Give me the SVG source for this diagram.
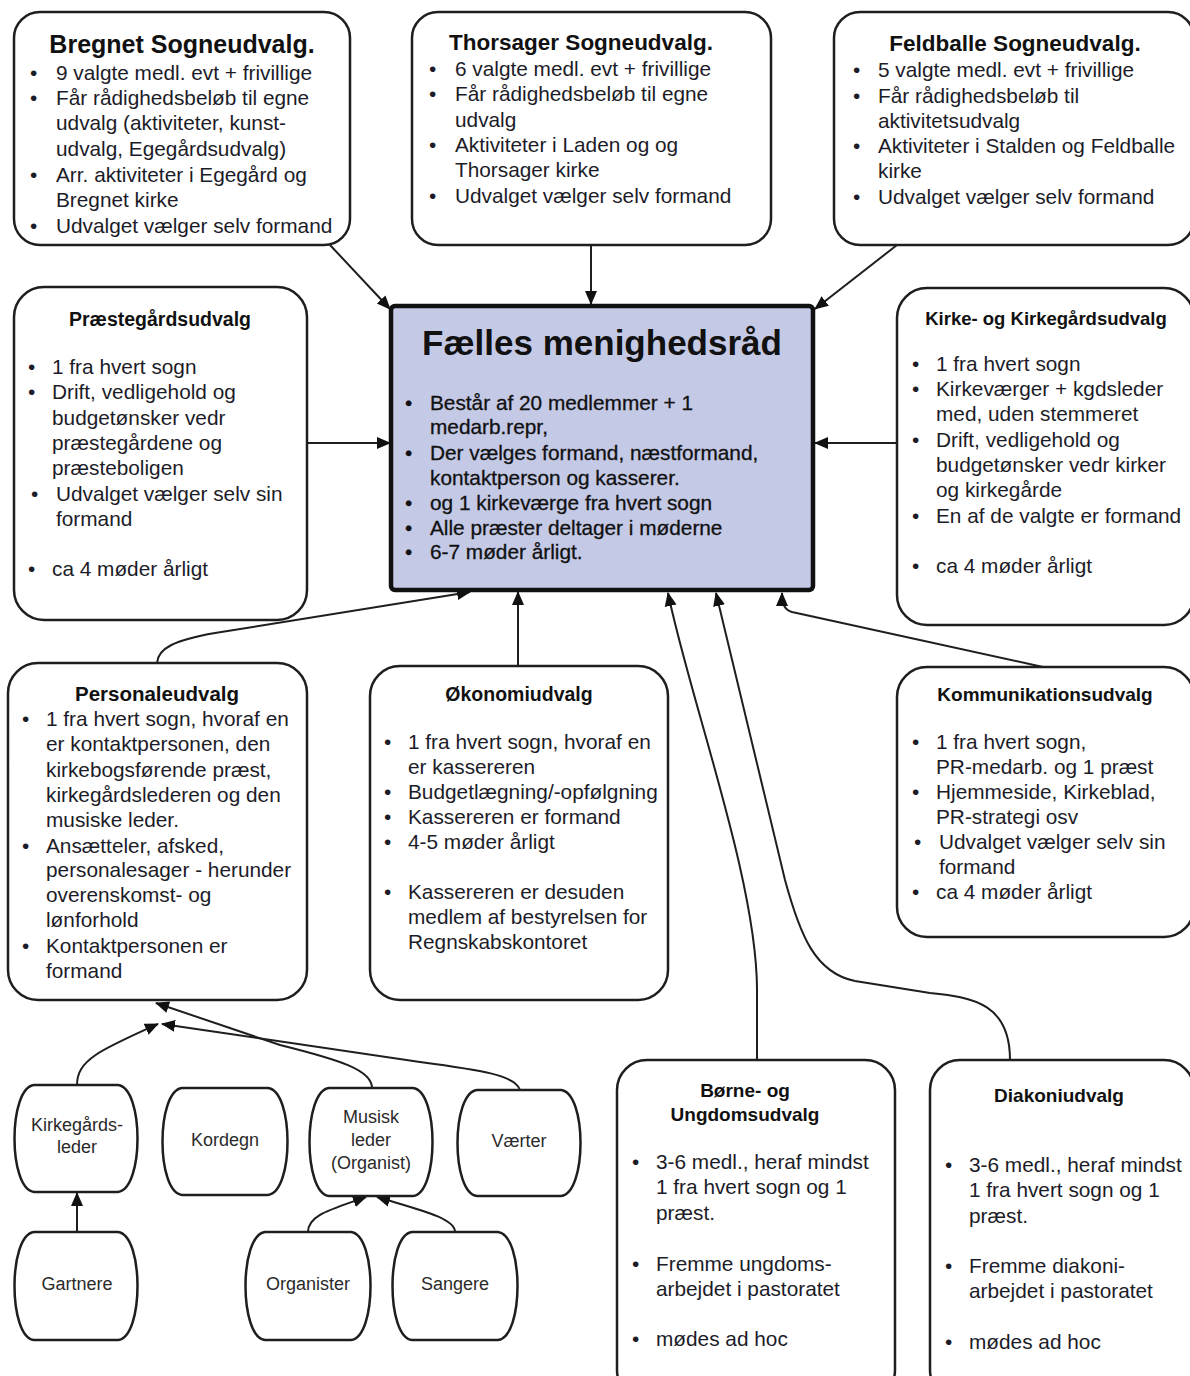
<svg xmlns="http://www.w3.org/2000/svg" width="1190" height="1376" viewBox="0 0 1190 1376">
<style>
.box{fill:#fff;stroke:#1e1e1e;stroke-width:2.5}
.main{fill:#c4c9e6;stroke:#111;stroke-width:4.5}
.t{font-family:'Liberation Sans',Arial,sans-serif;font-size:20.8px;fill:#1c1c28}
.h{font-family:'Liberation Sans',Arial,sans-serif;font-weight:bold;text-anchor:middle;fill:#111}
.s{font-family:'Liberation Sans',Arial,sans-serif;font-size:18px;fill:#2a2a2a;text-anchor:middle}
.c{fill:none;stroke:#1e1e1e;stroke-width:2}
</style>
<defs>
<marker id="ah" markerUnits="userSpaceOnUse" markerWidth="14" markerHeight="14" viewBox="0 0 14 14" refX="13" refY="7" orient="auto">
<path d="M0,1 L14,7 L0,13 Z" fill="#111"/>
</marker>
</defs>
<rect width="1190" height="1376" fill="#fff"/>

<g id="connectors">
<path class="c" d="M330,245 L390,309" marker-end="url(#ah)"/>
<path class="c" d="M591,245 L591,304" marker-end="url(#ah)"/>
<path class="c" d="M897,245 L815,309" marker-end="url(#ah)"/>
<path class="c" d="M307,443 L390,443" marker-end="url(#ah)"/>
<path class="c" d="M897,443 L815,443" marker-end="url(#ah)"/>
<path class="c" d="M157,663 C158,648 175,640 215,633 L470,592" marker-end="url(#ah)"/>
<path class="c" d="M518,666 L518,592" marker-end="url(#ah)"/>
<path class="c" d="M757,1060 L757,990 C757,880 690,700 668,593" marker-end="url(#ah)"/>
<path class="c" d="M1010,1060 C1010,1005 975,997 930,993 L855,981 C815,973 800,935 785,880 L716,593" marker-end="url(#ah)"/>
<path class="c" d="M1043,667 L792,612 C785,610 782,605 782,593" marker-end="url(#ah)"/>
<path class="c" d="M77,1085 C77,1060 100,1050 158,1024" marker-end="url(#ah)"/>
<path class="c" d="M372,1088 C372,1070 340,1060 280,1045 L156,1003" marker-end="url(#ah)"/>
<path class="c" d="M520,1090 C515,1075 480,1070 420,1062 L162,1024" marker-end="url(#ah)"/>
<path class="c" d="M77,1232 L77,1193" marker-end="url(#ah)"/>
<path class="c" d="M308,1232 C308,1215 330,1210 366,1197" marker-end="url(#ah)"/>
<path class="c" d="M455,1232 C455,1218 420,1210 377,1197" marker-end="url(#ah)"/>
</g>

<g id="bregnet">
<rect class="box" x="14" y="12" width="336" height="233" rx="26"/>
<text class="h" x="182" y="53" font-size="25">Bregnet Sogneudvalg.</text>
<g class="t">
<text x="30" y="80">•</text><text x="56" y="80">9 valgte medl. evt + frivillige</text>
<text x="30" y="105">•</text><text x="56" y="105">Får rådighedsbeløb til egne</text>
<text x="56" y="130">udvalg (aktiviteter, kunst-</text>
<text x="56" y="156">udvalg, Egegårdsudvalg)</text>
<text x="30" y="182">•</text><text x="56" y="182">Arr. aktiviteter i Egegård og</text>
<text x="56" y="207">Bregnet kirke</text>
<text x="30" y="233">•</text><text x="56" y="233">Udvalget vælger selv formand</text>
</g>
</g>

<g id="thorsager">
<rect class="box" x="412" y="12" width="359" height="233" rx="26"/>
<text class="h" x="581" y="50" font-size="22.5">Thorsager Sogneudvalg.</text>
<g class="t">
<text x="429" y="76">•</text><text x="455" y="76">6 valgte medl. evt + frivillige</text>
<text x="429" y="101">•</text><text x="455" y="101">Får rådighedsbeløb til egne</text>
<text x="455" y="127">udvalg</text>
<text x="429" y="152">•</text><text x="455" y="152">Aktiviteter i Laden og og</text>
<text x="455" y="177">Thorsager kirke</text>
<text x="429" y="203">•</text><text x="455" y="203">Udvalget vælger selv formand</text>
</g>
</g>

<g id="feldballe">
<rect class="box" x="834" y="12" width="360" height="233" rx="26"/>
<text class="h" x="1015" y="51" font-size="22.5">Feldballe Sogneudvalg.</text>
<g class="t">
<text x="853" y="77">•</text><text x="878" y="77">5 valgte medl. evt + frivillige</text>
<text x="853" y="103">•</text><text x="878" y="103">Får rådighedsbeløb til</text>
<text x="878" y="128">aktivitetsudvalg</text>
<text x="853" y="153">•</text><text x="878" y="153">Aktiviteter i Stalden og Feldballe</text>
<text x="878" y="178">kirke</text>
<text x="853" y="204">•</text><text x="878" y="204">Udvalget vælger selv formand</text>
</g>
</g>

<g id="faelles">
<rect class="main" x="391" y="306" width="422" height="284" rx="4"/>
<text class="h" x="602" y="355" font-size="35">Fælles menighedsråd</text>
<g class="t" style="fill:#111;stroke:#111;stroke-width:0.3">
<text x="405" y="410">•</text><text x="430" y="410">Består af 20 medlemmer + 1</text>
<text x="430" y="434">medarb.repr,</text>
<text x="405" y="460">•</text><text x="430" y="460">Der vælges formand, næstformand,</text>
<text x="430" y="485">kontaktperson og kasserer.</text>
<text x="405" y="510">•</text><text x="430" y="510">og 1 kirkeværge fra hvert sogn</text>
<text x="405" y="535">•</text><text x="430" y="535">Alle præster deltager i møderne</text>
<text x="405" y="559">•</text><text x="430" y="559">6-7 møder årligt.</text>
</g>
</g>

<g id="praestegaard">
<rect class="box" x="14" y="287" width="293" height="333" rx="30"/>
<text class="h" x="160" y="326" font-size="19.5">Præstegårdsudvalg</text>
<g class="t">
<text x="28" y="374">•</text><text x="52" y="374">1 fra hvert sogn</text>
<text x="28" y="399">•</text><text x="52" y="399">Drift, vedligehold og</text>
<text x="52" y="425">budgetønsker vedr</text>
<text x="52" y="450">præstegårdene og</text>
<text x="52" y="475">præsteboligen</text>
<text x="31" y="501">•</text><text x="56" y="501">Udvalget vælger selv sin</text>
<text x="56" y="526">formand</text>
<text x="28" y="576">•</text><text x="52" y="576">ca 4 møder årligt</text>
</g>
</g>

<g id="kirke">
<rect class="box" x="897" y="288" width="297" height="337" rx="30"/>
<text class="h" x="1046" y="325" font-size="18.5">Kirke- og Kirkegårdsudvalg</text>
<g class="t">
<text x="912" y="371">•</text><text x="936" y="371">1 fra hvert sogn</text>
<text x="912" y="396">•</text><text x="936" y="396">Kirkeværger + kgdsleder</text>
<text x="936" y="421">med, uden stemmeret</text>
<text x="912" y="447">•</text><text x="936" y="447">Drift, vedligehold og</text>
<text x="936" y="472">budgetønsker vedr kirker</text>
<text x="936" y="497">og kirkegårde</text>
<text x="912" y="523">•</text><text x="936" y="523">En af de valgte er formand</text>
<text x="912" y="573">•</text><text x="936" y="573">ca 4 møder årligt</text>
</g>
</g>

<g id="personale">
<rect class="box" x="8" y="663" width="299" height="337" rx="30"/>
<text class="h" x="157" y="701" font-size="20.5">Personaleudvalg</text>
<g class="t">
<text x="22" y="726">•</text><text x="46" y="726">1 fra hvert sogn, hvoraf en</text>
<text x="46" y="751">er kontaktpersonen, den</text>
<text x="46" y="777">kirkebogsførende præst,</text>
<text x="46" y="802">kirkegårdslederen og den</text>
<text x="46" y="827">musiske leder.</text>
<text x="22" y="853">•</text><text x="46" y="853">Ansætteler, afsked,</text>
<text x="46" y="877">personalesager - herunder</text>
<text x="46" y="902">overenskomst- og</text>
<text x="46" y="927">lønforhold</text>
<text x="22" y="953">•</text><text x="46" y="953">Kontaktpersonen er</text>
<text x="46" y="978">formand</text>
</g>
</g>

<g id="oekonomi">
<rect class="box" x="370" y="666" width="298" height="334" rx="30"/>
<text class="h" x="519" y="701" font-size="19.5">Økonomiudvalg</text>
<g class="t">
<text x="384" y="749">•</text><text x="408" y="749">1 fra hvert sogn, hvoraf en</text>
<text x="408" y="774">er kassereren</text>
<text x="384" y="799">•</text><text x="408" y="799">Budgetlægning/-opfølgning</text>
<text x="384" y="824">•</text><text x="408" y="824">Kassereren er formand</text>
<text x="384" y="849">•</text><text x="408" y="849">4-5 møder årligt</text>
<text x="384" y="899">•</text><text x="408" y="899">Kassereren er desuden</text>
<text x="408" y="924">medlem af bestyrelsen for</text>
<text x="408" y="949">Regnskabskontoret</text>
</g>
</g>

<g id="kommunikation">
<rect class="box" x="897" y="667" width="297" height="270" rx="30"/>
<text class="h" x="1045" y="701" font-size="19">Kommunikationsudvalg</text>
<g class="t">
<text x="912" y="749">•</text><text x="936" y="749">1 fra hvert sogn,</text>
<text x="936" y="774">PR-medarb. og 1 præst</text>
<text x="912" y="799">•</text><text x="936" y="799">Hjemmeside, Kirkeblad,</text>
<text x="936" y="824">PR-strategi osv</text>
<text x="914" y="849">•</text><text x="939" y="849">Udvalget vælger selv sin</text>
<text x="939" y="874">formand</text>
<text x="912" y="899">•</text><text x="936" y="899">ca 4 møder årligt</text>
</g>
</g>

<g id="boerne">
<rect class="box" x="617" y="1060" width="278" height="340" rx="30"/>
<text class="h" x="745" y="1097" font-size="19">Børne- og</text>
<text class="h" x="745" y="1121" font-size="19">Ungdomsudvalg</text>
<g class="t">
<text x="632" y="1169">•</text><text x="656" y="1169">3-6 medl., heraf mindst</text>
<text x="656" y="1194">1 fra hvert sogn og 1</text>
<text x="656" y="1220">præst.</text>
<text x="632" y="1271">•</text><text x="656" y="1271">Fremme ungdoms-</text>
<text x="656" y="1296">arbejdet i pastoratet</text>
<text x="632" y="1346">•</text><text x="656" y="1346">mødes ad hoc</text>
</g>
</g>

<g id="diakoni">
<rect class="box" x="930" y="1060" width="264" height="340" rx="30"/>
<text class="h" x="1059" y="1102" font-size="19">Diakoniudvalg</text>
<g class="t">
<text x="945" y="1172">•</text><text x="969" y="1172">3-6 medl., heraf mindst</text>
<text x="969" y="1197">1 fra hvert sogn og 1</text>
<text x="969" y="1223">præst.</text>
<text x="945" y="1273">•</text><text x="969" y="1273">Fremme diakoni-</text>
<text x="969" y="1298">arbejdet i pastoratet</text>
<text x="945" y="1349">•</text><text x="969" y="1349">mødes ad hoc</text>
</g>
</g>

<g id="kirkegaardsleder">
<path class="box" d="M34,1085 H118 C144,1088 144,1189 118,1192 H34 C8,1189 8,1088 34,1085 Z"/>
<text class="s" x="77" y="1131">Kirkegårds-</text>
<text class="s" x="77" y="1153">leder</text>
</g>
<g id="kordegn">
<path class="box" d="M182,1088 H268 C294,1091 294,1192 268,1195 H182 C156,1192 156,1091 182,1088 Z"/>
<text class="s" x="225" y="1146">Kordegn</text>
</g>
<g id="musisk">
<path class="box" d="M329,1088 H413 C439,1091 439,1193 413,1196 H329 C303,1193 303,1091 329,1088 Z"/>
<text class="s" x="371" y="1123">Musisk</text>
<text class="s" x="371" y="1146">leder</text>
<text class="s" x="371" y="1169">(Organist)</text>
</g>
<g id="vaerter">
<path class="box" d="M477,1090 H561 C587,1093 587,1193 561,1196 H477 C451,1193 451,1093 477,1090 Z"/>
<text class="s" x="519" y="1147">Værter</text>
</g>
<g id="gartnere">
<path class="box" d="M34,1232 H118 C144,1235 144,1337 118,1340 H34 C8,1337 8,1235 34,1232 Z"/>
<text class="s" x="77" y="1290">Gartnere</text>
</g>
<g id="organister">
<path class="box" d="M265,1232 H351 C377,1235 377,1337 351,1340 H265 C239,1337 239,1235 265,1232 Z"/>
<text class="s" x="308" y="1290">Organister</text>
</g>
<g id="sangere">
<path class="box" d="M412,1232 H498 C524,1235 524,1337 498,1340 H412 C386,1337 386,1235 412,1232 Z"/>
<text class="s" x="455" y="1290">Sangere</text>
</g>
</svg>
